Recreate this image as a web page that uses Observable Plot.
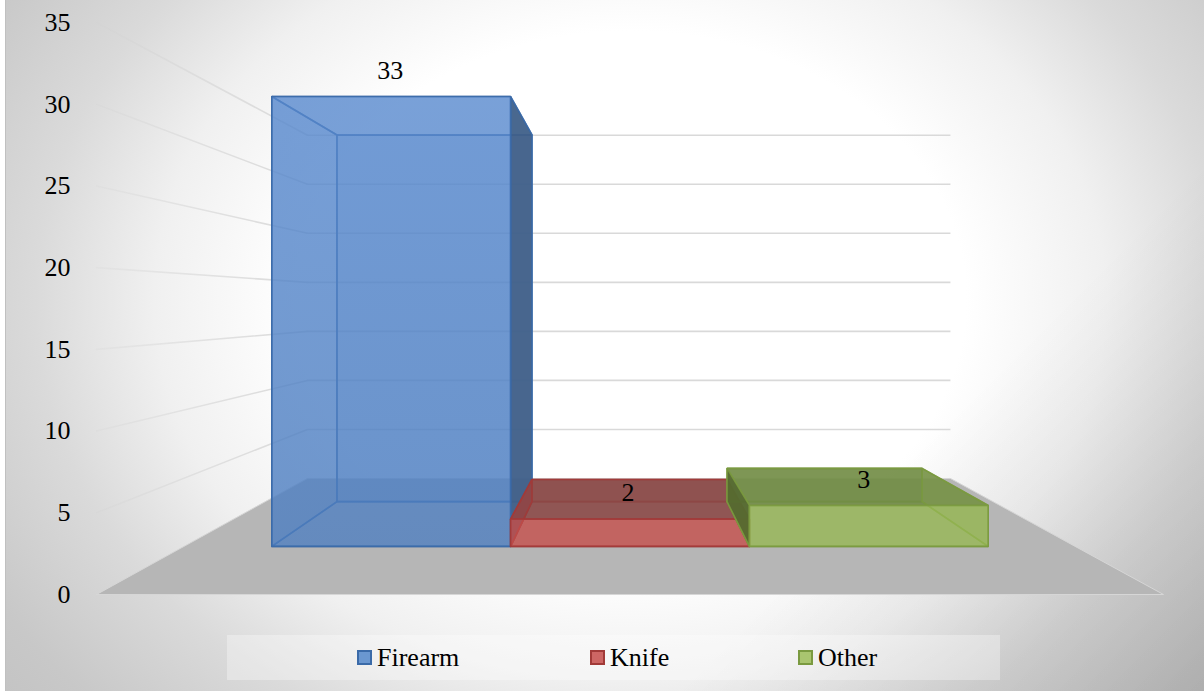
<!DOCTYPE html>
<html><head><meta charset="utf-8">
<script src="https://cdn.jsdelivr.net/npm/d3@7"></script>
<script src="https://cdn.jsdelivr.net/npm/@observablehq/plot@0.6"></script>
<style>
html,body{margin:0;padding:0;background:#fff}
#chart{position:relative;width:1204px;height:691px;overflow:hidden;
 background:
  linear-gradient(135deg,rgba(0,0,0,0) 72%,rgba(0,0,0,.12) 100%),
  radial-gradient(ellipse 700px 560px at 630px 300px,#ffffff 0%,#ffffff 48%,#f0f0f0 68%,#dadada 85%,#c8c8c8 105%,#bcbcbc 130%);
 font-family:"Liberation Serif",serif;color:#000}
#strip{position:absolute;left:0;top:0;width:5px;height:691px;background:#fff;border-right:1px solid #c0c0c0}
#chart svg{display:block;position:absolute;left:0;top:0;background:transparent}
#legend{position:absolute;left:227px;top:635px;width:773px;height:45px;background:rgba(255,255,255,.32)}
#legend .k{position:absolute;top:0;height:45px;line-height:45px;font-size:26px;white-space:nowrap}
#legend i{position:absolute;top:15px;width:11px;height:11px;border:2px solid;box-sizing:content-box}
#legend span{position:absolute;left:20px;top:0}
</style></head><body>
<div id="chart"><div id="strip"></div></div>
<script>
const categories = ["Firearm", "Knife", "Other"];
const values = [33, 2, 3];
const yTicks = [0, 5, 10, 15, 20, 25, 30, 35];

// styles
const palette = {
  Firearm: {front:"url(#blueFront)", side:"#3f5f88", top:"#5081c4", back:"#5081c4", edge:"#3a6aa8", swatch:"#6a97d0"},
  Knife:   {front:"#c8504c", side:"#b8403d", top:"#8a4a48", back:"#a83c3a", edge:"#a13a38", swatch:"#cd6664"},
  Other:   {front:"#98ba55", side:"#55692f", top:"#718c45", back:"#7e9c45", edge:"#7a9a40", swatch:"#a9c56f"}
};
const legendX = {Firearm:130, Knife:363, Other:571};

// Depth projection: t = 0 front of floor, t = 1 back wall.
const px = (u, t) => u * (1 - 0.3974 * t) + t * 0.1977;
const py = (v, t) => v * (1 - 0.4 * t) + t * 7.1;
const P = (u, v, t) => ({x: px(u, t), y: py(v, t)});
const tFront = 0.415, tBack = 0.80, uStart = 0.0985, uWidth = 0.268;
const pxUnit = 1 / 1067;

const face = (pts, o) => Plot.line([...pts, pts[0]], {x:"x", y:"y", curve:"linear", strokeLinejoin:"miter", ...o});

const floor = [P(0,0,0), P(1,0,0), P(1,0,1), P(0,0,1)];
const wallTicks = yTicks.filter(d => d > 0);

const defs = () => {
  const s = d3.create("svg:defs");
  const g = s.append("linearGradient").attr("id","fan").attr("gradientUnits","userSpaceOnUse")
    .attr("x1",90).attr("x2",310).attr("y1",0).attr("y2",0);
  g.append("stop").attr("offset",0).attr("stop-color","#cfcfcf").attr("stop-opacity",0.15);
  g.append("stop").attr("offset",1).attr("stop-color","#d9d9d9").attr("stop-opacity",1);
  const b = s.append("linearGradient").attr("id","blueFront").attr("gradientUnits","userSpaceOnUse")
    .attr("x1",0).attr("x2",0).attr("y1",95).attr("y2",545);
  b.append("stop").attr("offset",0).attr("stop-color","#5a8bd0");
  b.append("stop").attr("offset",1).attr("stop-color","#4f7fc0");
  return s.node();
};

const barMarks = categories.flatMap((c, i) => {
  const v = values[i], st = palette[c];
  const u0 = uStart + i * uWidth, u1 = u0 + uWidth;
  const F = (u, h) => P(u, h, tFront), B = (u, h) => P(u, h, tBack);
  const above = py(v, tFront) < py(v, tBack); // top seen from above
  const line = {stroke: st.edge, strokeWidth: 1.6, strokeOpacity: 0.85};
  const leftOuter = c === "Other", rightOuter = c === "Firearm";
  return [
    face([F(u0,0),F(u1,0),B(u1,0),B(u0,0)], {fill: st.back, fillOpacity: 0.25, ...line}),
    face([B(u0,0),B(u1,0),B(u1,v),B(u0,v)], {fill: st.back, fillOpacity: 0.45, ...line}),
    face([F(u0,v),F(u1,v),B(u1,v),B(u0,v)], {fill: st.top, fillOpacity: above ? 0.85 : 0.3, ...line}),
    face([F(u0,0),B(u0,0),B(u0,v),F(u0,v)], {fill: leftOuter ? st.side : st.back, fillOpacity: leftOuter ? 0.95 : 0.35, ...line}),
    face([F(u1,0),B(u1,0),B(u1,v),F(u1,v)], {fill: rightOuter ? st.side : st.back, fillOpacity: rightOuter ? 0.93 : 0.35, ...line}),
    face([F(u0,0),F(u1,0),F(u1,v),F(u0,v)], {fill: st.front, fillOpacity: 0.72, ...line})
  ];
});

const labelNudge = {Firearm: -1, Knife: -2, Other: -5};
const labels = categories.map((c, i) => {
  const p = P(uStart + (i + 0.5) * uWidth, values[i], tFront);
  return {c, v: values[i], x: p.x + labelNudge[c] * pxUnit, y: p.y};
});

const plot = Plot.plot({
  width: 1204, height: 632,
  marginLeft: 96, marginRight: 41, marginTop: 22, marginBottom: 38,
  style: {background: "transparent", fontFamily: '"Liberation Serif", serif', color: "#000", overflow: "visible"},
  x: {domain: [0, 1], range: [96, 1163], axis: null},
  y: {domain: [0, 35], range: [594, 22], axis: null},
  marks: [
    defs,
    Plot.axisY({ticks: yTicks, tickSize: 0, tickPadding: 26, fontSize: 26, label: null, anchor: "left", tickFormat: d => String(d), fill: "#000"}),
    ...wallTicks.map(v => face([P(0,v,0), P(0,v,1)], {stroke: "url(#fan)", strokeWidth: 1.6})),
    ...wallTicks.map(v => face([P(0,v,1), P(1,v,1)], {stroke: "#d9d9d9", strokeWidth: 1.6})),
    face(floor, {fill: "#b6b6b6", stroke: "#d6d6d6", strokeWidth: 1}),
    ...barMarks,
    Plot.text(labels, {x: "x", y: "y", text: d => String(d.v), dy: -26, fontSize: 26, fill: "#000", lineAnchor: "middle"})
  ]
});
const root = document.getElementById("chart");
root.appendChild(plot);

const lg = document.createElement("div");
lg.id = "legend";
categories.forEach(c => {
  const k = document.createElement("div");
  k.className = "k";
  k.style.left = legendX[c] + "px";
  k.innerHTML = `<i style="background:${palette[c].swatch};border-color:${palette[c].edge}"></i><span>${c}</span>`;
  lg.appendChild(k);
});
root.appendChild(lg);
</script>
</body></html>
